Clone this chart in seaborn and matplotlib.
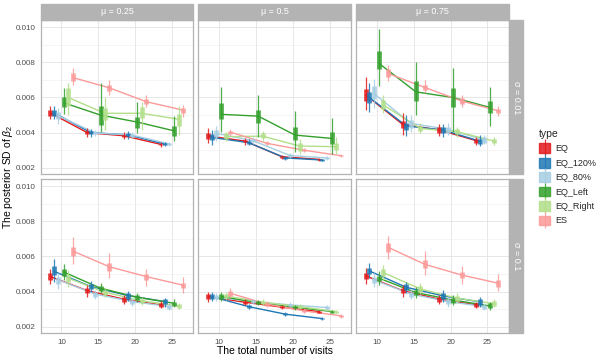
import numpy as np
import pandas as pd
import matplotlib.pyplot as plt
from matplotlib.patches import Patch, Rectangle
from matplotlib.lines import Line2D
import seaborn as sns

sns.set_theme(style="whitegrid")
plt.rcParams["font.family"] = ["Liberation Sans", "DejaVu Sans"]
plt.rcParams["mathtext.fontset"] = "custom"
plt.rcParams["mathtext.it"] = "Liberation Sans:italic"
plt.rcParams["mathtext.rm"] = "Liberation Sans"

types = ["EQ", "EQ_120%", "EQ_80%", "EQ_Left", "EQ_Right", "ES"]
colors = ["#E31A1C", "#1F78B4", "#A6CEE3", "#33A02C", "#B2DF8A", "#FB9A99"]
mus = ["0.25", "0.5", "0.75"]
sigmas = ["0.01", "0.1"]

# total number of visits for each design (rows follow `types`)
visits = [[8.5, 13.5, 18.5, 23.5],
          [9.0, 14.0, 19.0, 24.0],
          [9.6, 14.6, 19.6, 24.6],
          [10.3, 15.3, 20.3, 25.3],
          [10.9, 15.9, 20.9, 25.9],
          [11.5, 16.5, 21.5, 26.5]]

# posterior SD, in units of 1e-3: median, box (lo/hi), whisker (lo/hi)
# sigma = 0.01, mu = 0.25
med_001_025 = [[5.12, 4.00, 3.82, 3.33], [5.12, 4.00, 3.88, 3.35], [4.95, 3.98, 3.86, 3.36],
               [5.70, 5.00, 4.60, 4.10], [6.00, 5.10, 5.10, 4.76], [7.14, 6.55, 5.76, 5.28]]
blo_001_025 = [[4.95, 3.93, 3.76, 3.28], [4.95, 3.92, 3.80, 3.30], [4.75, 3.90, 3.78, 3.30],
               [5.44, 4.43, 4.24, 3.82], [5.51, 4.72, 4.81, 4.37], [6.93, 6.38, 5.61, 5.13]]
bhi_001_025 = [[5.30, 4.07, 3.88, 3.38], [5.30, 4.08, 3.96, 3.40], [5.15, 4.06, 3.94, 3.42],
               [6.00, 5.51, 4.90, 4.38], [6.52, 5.38, 5.44, 5.06], [7.37, 6.70, 5.93, 5.41]]
wlo_001_025 = [[4.75, 3.73, 3.64, 3.20], [4.75, 3.78, 3.66, 3.22], [4.50, 3.80, 3.70, 3.24],
               [5.06, 4.05, 4.00, 3.54], [5.00, 4.15, 4.15, 3.86], [6.70, 6.14, 5.45, 4.90]]
whi_001_025 = [[5.50, 4.24, 4.05, 3.45], [5.50, 4.22, 4.10, 3.48], [5.40, 4.16, 4.02, 3.48],
               [6.52, 6.83, 5.72, 4.94], [6.80, 6.04, 5.76, 5.51], [7.65, 7.00, 6.14, 5.60]]
# sigma = 0.01, mu = 0.5
med_001_05 = [[3.81, 3.52, 2.63, 2.48], [3.73, 3.43, 2.56, 2.44], [3.96, 3.54, 2.70, 2.56],
              [5.04, 4.94, 3.86, 3.67], [3.77, 3.80, 3.24, 3.20], [4.03, 3.39, 3.00, 2.69]]
blo_001_05 = [[3.62, 3.45, 2.58, 2.44], [3.56, 3.36, 2.52, 2.40], [3.75, 3.45, 2.64, 2.50],
              [4.75, 4.53, 3.58, 3.35], [3.62, 3.67, 2.97, 3.00], [3.95, 3.33, 2.95, 2.65]]
bhi_001_05 = [[4.00, 3.60, 2.68, 2.52], [3.90, 3.52, 2.62, 2.48], [4.15, 3.64, 2.76, 2.62],
              [5.66, 5.28, 4.34, 4.02], [3.96, 4.00, 3.43, 3.40], [4.10, 3.46, 3.05, 2.73]]
wlo_001_05 = [[3.43, 3.32, 2.50, 2.40], [3.30, 3.28, 2.46, 2.36], [3.55, 3.36, 2.58, 2.45],
              [4.05, 3.77, 2.91, 2.78], [3.50, 3.50, 2.80, 2.80], [3.85, 3.28, 2.90, 2.62]]
whi_001_05 = [[4.24, 3.70, 2.75, 2.56], [4.15, 3.62, 2.68, 2.52], [4.35, 3.74, 2.84, 2.66],
              [6.60, 6.14, 5.23, 4.81], [4.05, 4.10, 3.65, 3.75], [4.18, 3.50, 3.10, 2.76]]
# sigma = 0.01, mu = 0.75
med_001_075 = [[6.14, 4.47, 4.15, 3.54], [6.00, 4.38, 4.15, 3.51], [6.23, 4.53, 4.19, 3.58],
               [7.94, 6.32, 6.00, 5.44], [5.57, 4.24, 4.05, 3.52], [7.37, 6.57, 5.80, 5.24]]
blo_001_075 = [[5.81, 4.24, 4.00, 3.43], [5.66, 4.15, 3.96, 3.36], [5.89, 4.24, 4.00, 3.43],
               [7.60, 5.81, 5.44, 5.10], [5.32, 4.09, 3.92, 3.39], [7.18, 6.42, 5.63, 5.09]]
bhi_001_075 = [[6.46, 4.66, 4.34, 3.65], [6.33, 4.56, 4.34, 3.62], [6.65, 4.72, 4.34, 3.73],
               [8.65, 6.93, 6.52, 5.80], [5.85, 4.38, 4.19, 3.65], [7.60, 6.70, 5.95, 5.37]]
wlo_001_075 = [[5.28, 3.86, 3.81, 3.30], [5.19, 3.81, 3.73, 3.24], [5.38, 4.05, 3.87, 3.36],
               [6.65, 5.00, 4.05, 4.38], [5.10, 3.96, 3.77, 3.30], [6.95, 6.23, 5.44, 4.94]]
whi_001_075 = [[7.18, 5.10, 4.49, 3.77], [6.80, 5.00, 4.49, 3.87], [7.08, 5.00, 4.53, 3.87],
               [9.87, 8.03, 7.69, 6.57], [6.14, 4.53, 4.34, 3.77], [7.84, 6.99, 6.14, 5.51]]
# sigma = 0.1, mu = 0.25
med_01_025 = [[4.85, 4.05, 3.56, 3.24], [5.15, 4.28, 3.77, 3.43], [4.66, 3.85, 3.43, 3.14],
              [5.11, 4.19, 3.67, 3.33], [4.76, 3.96, 3.47, 3.18], [6.31, 5.41, 4.85, 4.36]]
blo_01_025 = [[4.65, 3.90, 3.43, 3.11], [4.94, 4.13, 3.60, 3.30], [4.45, 3.71, 3.30, 3.03],
              [4.89, 4.05, 3.52, 3.18], [4.56, 3.83, 3.33, 3.05], [6.02, 5.19, 4.66, 4.19]]
bhi_01_025 = [[5.05, 4.19, 3.67, 3.37], [5.45, 4.43, 3.90, 3.56], [4.85, 3.98, 3.52, 3.26],
              [5.27, 4.32, 3.79, 3.43], [4.94, 4.09, 3.60, 3.30], [6.52, 5.64, 4.98, 4.50]]
wlo_01_025 = [[4.40, 3.71, 3.30, 3.05], [4.55, 4.00, 3.48, 3.14], [4.15, 3.56, 3.18, 2.95],
              [4.66, 3.90, 3.43, 3.11], [4.28, 3.71, 3.24, 2.99], [5.57, 4.76, 4.32, 3.94]]
whi_01_025 = [[5.30, 4.38, 3.81, 3.48], [5.85, 4.62, 4.05, 3.65], [5.05, 4.09, 3.62, 3.37],
              [5.57, 4.47, 3.94, 3.56], [5.23, 4.24, 3.71, 3.37], [7.12, 6.17, 5.27, 4.85]]
# sigma = 0.1, mu = 0.5
med_01_05 = [[3.71, 3.39, 3.11, 2.86], [3.71, 3.14, 2.71, 2.46], [3.67, 3.43, 3.24, 3.09],
             [3.71, 3.37, 3.11, 2.86], [3.75, 3.39, 3.14, 2.86], [3.90, 3.28, 2.90, 2.62]]
blo_01_05 = [[3.56, 3.30, 3.04, 2.80], [3.56, 3.07, 2.65, 2.41], [3.55, 3.36, 3.17, 3.03],
             [3.58, 3.29, 3.04, 2.80], [3.63, 3.31, 3.07, 2.80], [3.75, 3.20, 2.83, 2.56]]
bhi_01_05 = [[3.86, 3.48, 3.18, 2.92], [3.86, 3.21, 2.77, 2.51], [3.79, 3.50, 3.31, 3.15],
             [3.84, 3.45, 3.18, 2.92], [3.87, 3.47, 3.21, 2.92], [4.05, 3.36, 2.97, 2.68]]
wlo_01_05 = [[3.43, 3.24, 2.98, 2.75], [3.45, 3.00, 2.60, 2.36], [3.45, 3.28, 3.10, 2.97],
             [3.46, 3.21, 2.97, 2.75], [3.52, 3.23, 3.00, 2.75], [3.62, 3.12, 2.76, 2.50]]
whi_01_05 = [[3.98, 3.56, 3.24, 2.97], [3.97, 3.28, 2.82, 2.56], [3.89, 3.58, 3.38, 3.21],
             [3.96, 3.53, 3.25, 2.97], [3.98, 3.55, 3.28, 2.97], [4.19, 3.44, 3.04, 2.74]]
# sigma = 0.1, mu = 0.75
med_01_075 = [[4.89, 4.05, 3.56, 3.24], [5.17, 4.24, 3.75, 3.41], [4.66, 3.86, 3.43, 3.14],
              [4.76, 3.94, 3.52, 3.18], [5.07, 4.15, 3.62, 3.31], [6.52, 5.55, 4.94, 4.47]]
blo_01_075 = [[4.70, 3.90, 3.43, 3.11], [5.00, 4.09, 3.60, 3.26], [4.47, 3.71, 3.30, 3.03],
              [4.62, 3.79, 3.37, 3.05], [4.89, 4.00, 3.48, 3.18], [6.27, 5.32, 4.75, 4.28]]
bhi_01_075 = [[5.04, 4.19, 3.67, 3.37], [5.32, 4.41, 3.90, 3.56], [4.85, 3.99, 3.56, 3.26],
              [4.89, 4.09, 3.65, 3.33], [5.26, 4.32, 3.75, 3.45], [6.74, 5.80, 5.13, 4.66]]
wlo_01_075 = [[4.43, 3.71, 3.30, 3.05], [4.76, 3.90, 3.43, 3.14], [4.24, 3.56, 3.14, 2.95],
              [4.38, 3.62, 3.24, 2.95], [4.66, 3.86, 3.33, 3.11], [5.83, 4.94, 4.43, 4.05]]
whi_01_075 = [[5.36, 4.38, 3.81, 3.43], [5.64, 4.56, 4.09, 3.67], [5.04, 4.13, 3.71, 3.37],
              [5.14, 4.28, 3.81, 3.43], [5.51, 4.47, 3.90, 3.56], [7.16, 6.31, 5.45, 5.00]]

panels = {
    ("0.01", "0.25"): (med_001_025, blo_001_025, bhi_001_025, wlo_001_025, whi_001_025),
    ("0.01", "0.5"): (med_001_05, blo_001_05, bhi_001_05, wlo_001_05, whi_001_05),
    ("0.01", "0.75"): (med_001_075, blo_001_075, bhi_001_075, wlo_001_075, whi_001_075),
    ("0.1", "0.25"): (med_01_025, blo_01_025, bhi_01_025, wlo_01_025, whi_01_025),
    ("0.1", "0.5"): (med_01_05, blo_01_05, bhi_01_05, wlo_01_05, whi_01_05),
    ("0.1", "0.75"): (med_01_075, blo_01_075, bhi_01_075, wlo_01_075, whi_01_075),
}

rows = []
for (s, m), arrs in panels.items():
    for ti, t in enumerate(types):
        for k in range(4):
            rows.append(dict(sigma=s, mu=m, type=t, visits=visits[ti][k],
                             med=arrs[0][ti][k] / 1000, blo=arrs[1][ti][k] / 1000,
                             bhi=arrs[2][ti][k] / 1000, wlo=arrs[3][ti][k] / 1000,
                             whi=arrs[4][ti][k] / 1000))
df = pd.DataFrame(rows)

pal = dict(zip(types, colors))
fig, axes = plt.subplots(2, 3, figsize=(6, 3.6), dpi=100, sharex=True, sharey=True)
fig.subplots_adjust(left=0.068, right=0.848, top=0.944, bottom=0.075, wspace=0.033, hspace=0.032)

strip_c = "#b3b3b3"
for r, s in enumerate(sigmas):
    for c, m in enumerate(mus):
        ax = axes[r, c]
        sub = df[(df.sigma == s) & (df.mu == m)]
        sns.lineplot(data=sub, x="visits", y="med", hue="type", hue_order=types,
                     palette=pal, estimator=None, sort=True, lw=1.0, legend=False, ax=ax)
        for t in types:
            d = sub[sub.type == t]
            ax.vlines(d.visits, d.wlo, d.whi, color=pal[t], lw=0.9, alpha=0.85, zorder=3)
            ax.vlines(d.visits, d.blo, d.bhi, color=pal[t], lw=3.4, alpha=0.85, zorder=4)
        ax.set_xlim(7.2, 27.9)
        ax.set_ylim(0.00164, 0.0104)
        ax.set_xticks([10, 15, 20, 25])
        ax.set_yticks([0.002, 0.004, 0.006, 0.008, 0.010])
        ax.set_yticks([0.003, 0.005, 0.007, 0.009], minor=True)
        ax.yaxis.set_major_formatter(plt.FormatStrFormatter("%.3f"))
        ax.grid(True, which="major", color="#e3e3e3", lw=0.6)
        ax.grid(True, which="minor", axis="y", color="#eeeeee", lw=0.4)
        ax.set_xlabel("")
        ax.set_ylabel("")
        for sp in ax.spines.values():
            sp.set_color(strip_c)
            sp.set_linewidth(0.9)
        ax.tick_params(which="major", length=2.5, width=0.5, color=strip_c,
                       labelsize=5.8, labelcolor="#4d4d4d", pad=1.5)
        ax.tick_params(which="minor", length=0)
        if r == 0:
            ax.add_patch(Rectangle((0, 1.004), 1, 0.104, transform=ax.transAxes,
                                   color=strip_c, clip_on=False))
            ax.text(0.5, 1.056, "μ = " + m, transform=ax.transAxes, ha="center",
                    va="center", fontsize=6.5, color="white")
        if c == 2:
            ax.add_patch(Rectangle((1.004, 0), 0.09, 1, transform=ax.transAxes,
                                   color=strip_c, clip_on=False))
            ax.text(1.049, 0.5, "σ = " + s, transform=ax.transAxes, ha="center",
                    va="center", fontsize=6.5, color="white", rotation=-90)

fig.text(0.458, 0.012, "The total number of visits", ha="center", va="bottom",
         fontsize=7.5, color="black")
fig.text(0.013, 0.51, r"The posterior SD of $\beta_2$", ha="center", va="center",
         rotation=90, fontsize=7.5, color="black")

handles = [(Patch(facecolor=col, edgecolor=col, alpha=0.85),
            Line2D([], [], color=col, marker="|", markersize=12, mew=0.9, ls="None", alpha=0.85))
           for col in colors]
leg = fig.legend(handles, types, loc="upper left", bbox_to_anchor=(0.885, 0.665),
                 title="type", frameon=False, fontsize=6.5, title_fontsize=7.5,
                 handlelength=1.2, handleheight=1.3, labelspacing=0.5, handletextpad=0.6)
leg._legend_box.align = "left"

fig.savefig("out.png", dpi=100)
